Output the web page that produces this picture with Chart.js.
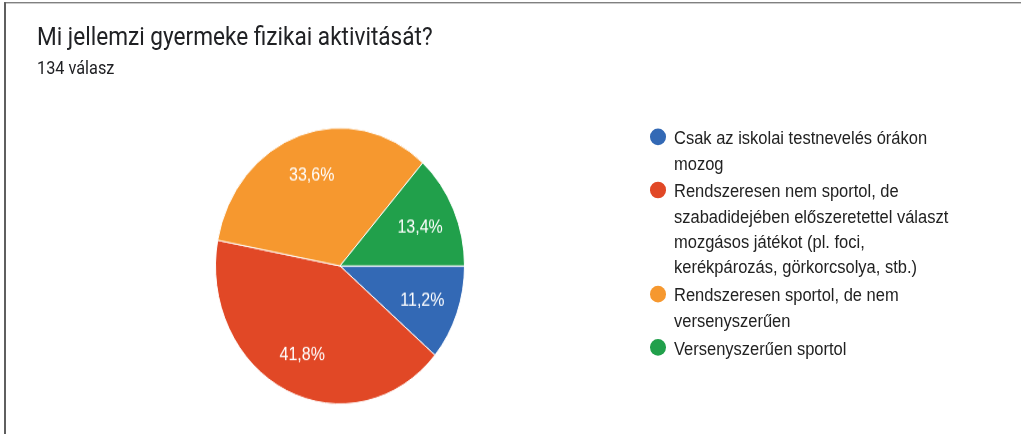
<!DOCTYPE html>
<html>
<head>
<meta charset="utf-8">
<script src="https://cdn.jsdelivr.net/npm/chart.js@4/dist/chart.umd.min.js"></script>
<style>
  html, body { margin: 0; padding: 0; background: #fff; overflow: hidden; }
  body { width: 1021px; height: 434px; position: relative; }
  /* the reference is stretched vertically, so the whole card is scaled */
  #card { position: absolute; left: 0; top: 0; width: 1021px; height: 392px;
          transform: scaleY(1.108); transform-origin: 0 0; }
  .line { position: absolute; background: #5f5f5f; }
  #title { position: absolute; left: 37px; top: 23.1px; font: 22.6px Roboto, sans-serif;
           line-height: 1; color: #202124; white-space: nowrap; }
  #sub { position: absolute; left: 37px; top: 53.8px; font: 16.3px Roboto, sans-serif;
         line-height: 1; color: #202124; white-space: nowrap; }
  #pie { position: absolute; left: 215px; top: 115px; width: 250px; height: 250px; }
  #legend { position: absolute; left: 649.5px; top: 113px; }
  .item { position: relative; padding-left: 24.5px; margin-bottom: 2.5px;
          font: 16.5px "Liberation Sans", Arial, sans-serif; line-height: 22.8px;
          color: #222; white-space: nowrap; }
  .dot { position: absolute; left: 0; top: 3px; width: 16.5px; height: 15px; border-radius: 50%; }
</style>
</head>
<body>
<div id="card">
  <div class="line" style="left:4px;top:2.2px;width:1017px;height:1px"></div>
  <div class="line" style="left:4px;top:2.2px;width:1.5px;height:390px"></div>
  <div id="title">Mi jellemzi gyermeke fizikai aktivitását?</div>
  <div id="sub">134 válasz</div>
  <canvas id="pie" width="250" height="250"></canvas>
  <div id="legend"></div>
</div>
<script>
// Adatok
var categories = [
  ['Csak az iskolai testnevelés órákon', 'mozog'],
  ['Rendszeresen nem sportol, de', 'szabadidejében előszeretettel választ', 'mozgásos játékot (pl. foci,', 'kerékpározás, görkorcsolya, stb.)'],
  ['Rendszeresen sportol, de nem', 'versenyszerűen'],
  ['Versenyszerűen sportol']
];
var counts = [15, 56, 45, 18];
var colors = ['#3369b5', '#e14826', '#f6982f', '#21a04b'];

// Legenda
var legend = document.getElementById('legend');
categories.forEach(function (lines, i) {
  var item = document.createElement('div');
  item.className = 'item';
  var dot = document.createElement('span');
  dot.className = 'dot';
  dot.style.background = colors[i];
  item.appendChild(dot);
  lines.forEach(function (t, j) {
    if (j > 0) item.appendChild(document.createElement('br'));
    item.appendChild(document.createTextNode(t));
  });
  legend.appendChild(item);
});

// Percentuali dentro le fette
var pctLabels = {
  id: 'pctLabels',
  afterDatasetsDraw: function (chart) {
    var ctx = chart.ctx;
    var meta = chart.getDatasetMeta(0);
    var total = counts.reduce(function (a, b) { return a + b; }, 0);
    ctx.save();
    ctx.font = '16px "Liberation Sans", Arial, sans-serif';
    ctx.fillStyle = '#fff';
    ctx.textAlign = 'center';
    ctx.textBaseline = 'alphabetic';
    meta.data.forEach(function (arc, i) {
      var p = arc.getProps(['x', 'y', 'startAngle', 'endAngle', 'outerRadius'], true);
      var mid = (p.startAngle + p.endAngle) / 2;
      var r = p.outerRadius * 0.705;
      var txt = (counts[i] / total * 100).toFixed(1).replace('.', ',') + '%';
      ctx.fillText(txt, p.x + Math.cos(mid) * r, p.y + Math.sin(mid) * r + 5.7);
    });
    ctx.restore();
  }
};

new Chart(document.getElementById('pie').getContext('2d'), {
  type: 'pie',
  data: {
    labels: categories,
    datasets: [{
      data: counts,
      backgroundColor: colors,
      borderColor: '#fff',
      borderWidth: 1
    }]
  },
  options: {
    responsive: false,
    animation: false,
    rotation: 90,
    layout: { padding: 0 },
    plugins: {
      legend: { display: false },
      tooltip: { enabled: false }
    }
  },
  plugins: [pctLabels]
});
</script>
</body>
</html>
